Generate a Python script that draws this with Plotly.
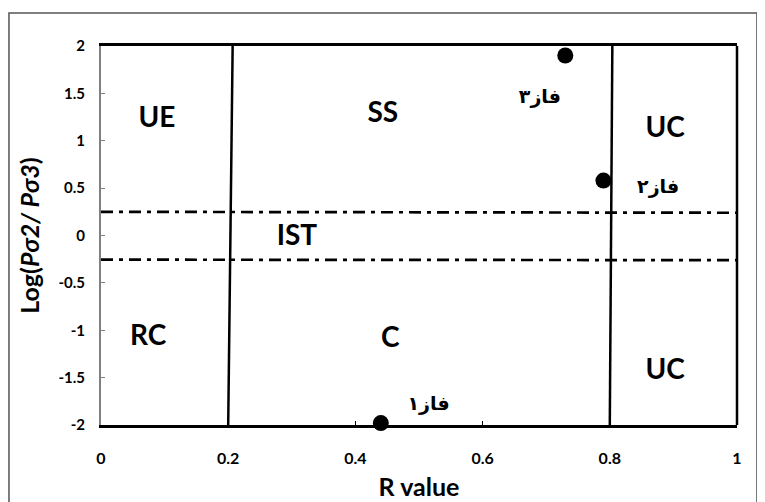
import plotly.graph_objects as go

# Data points (R value, log ratio)
phase_labels = ["فاز۱", "فاز۲", "فاز۳"]
phase_r = [0.44, 0.79, 0.73]
phase_log = [-1.98, 0.58, 1.9]

# Phase label positions
phase_label_r = [0.515, 0.876, 0.69]
phase_label_log = [-1.79, 0.5, 1.45]

# Boundary lines
left_boundary_r = [0.207, 0.2]
right_boundary_r = [0.804, 0.8]
boundary_log = [2, -2]

upper_ist_log = [0.25, 0.24]
lower_ist_log = [-0.255, -0.26]
ist_r = [0, 1]

# Region labels
region_names = ["UE", "SS", "UC", "IST", "RC", "C", "UC"]
region_r = [0.088, 0.443, 0.887, 0.308, 0.074, 0.455, 0.887]
region_log = [1.22, 1.27, 1.11, -0.03, -1.08, -1.1, -1.44]

x_ticks = [0, 0.2, 0.4, 0.6, 0.8, 1]
x_tick_text = ["0", "0.2", "0.4", "0.6", "0.8", "1"]
y_ticks = [-2, -1.5, -1, -0.5, 0, 0.5, 1, 1.5, 2]
y_tick_text = ["-2", "-1.5", "-1", "-0.5", "0", "0.5", "1", "1.5", "2"]

font_fam = "Lato, Open Sans, sans-serif"
fig = go.Figure()

for xs in (left_boundary_r, right_boundary_r):
    fig.add_trace(go.Scatter(x=xs, y=boundary_log, mode="lines",
                             line=dict(color="black", width=2.5),
                             hoverinfo="skip", showlegend=False))
for ys in (upper_ist_log, lower_ist_log):
    fig.add_trace(go.Scatter(x=ist_r, y=ys, mode="lines",
                             line=dict(color="black", width=2.7, dash="12px,6px,4px,6px"),
                             hoverinfo="skip", showlegend=False))

fig.add_trace(go.Scatter(x=phase_r, y=phase_log, mode="markers",
                         marker=dict(color="black", size=16),
                         cliponaxis=False, showlegend=False))

fig.add_trace(go.Scatter(x=region_r, y=region_log, mode="text", text=region_names,
                         textfont=dict(family=font_fam, size=28, color="black", weight="bold"),
                         showlegend=False))
fig.add_trace(go.Scatter(x=phase_label_r, y=phase_label_log, mode="text", text=phase_labels,
                         textfont=dict(family="DejaVu Sans, Noto Sans, sans-serif", size=19,
                                       color="black", weight="bold"),
                         showlegend=False))

fig.update_layout(
    width=757, height=494,
    margin=dict(l=93, r=28, t=38, b=77, autoexpand=False),
    paper_bgcolor="white", plot_bgcolor="white",
    font=dict(family=font_fam, color="black"),
    xaxis=dict(range=[0, 1], tickvals=x_ticks, ticktext=x_tick_text,
               showgrid=False, zeroline=False, automargin=False,
               showline=True, linecolor="black", linewidth=2.5, mirror=True,
               ticks="inside", ticklen=4, tickcolor="black", tickwidth=1,
               ticklabelstandoff=17,
               tickfont=dict(size=16, family=font_fam, weight="bold"),
               title=dict(text="R value", standoff=13,
                          font=dict(size=25, family=font_fam, weight="bold"))),
    yaxis=dict(range=[-2, 2], tickvals=y_ticks, ticktext=y_tick_text,
               showgrid=False, zeroline=False, automargin=False,
               showline=True, linecolor="#808080", linewidth=2,
               ticks="inside", ticklen=4, tickcolor="#808080", tickwidth=1,
               ticklabelstandoff=11,
               tickfont=dict(size=15, family=font_fam, weight="bold"),
               title=dict(text="Log(<i>Pσ2/ Pσ3</i>)", standoff=12,
                          font=dict(size=25, family=font_fam, weight="bold"))),
    shapes=[
        dict(type="line", xref="paper", yref="paper", x0=1, x1=1, y0=0, y1=1,
             line=dict(color="black", width=2.5)),
        dict(type="rect", xref="paper", yref="paper", x0=-0.1447, x1=1.0314,
             y0=-0.25, y1=1.087, line=dict(color="#555555", width=1.5), layer="below"),
    ],
)

fig.write_html("out.html")
